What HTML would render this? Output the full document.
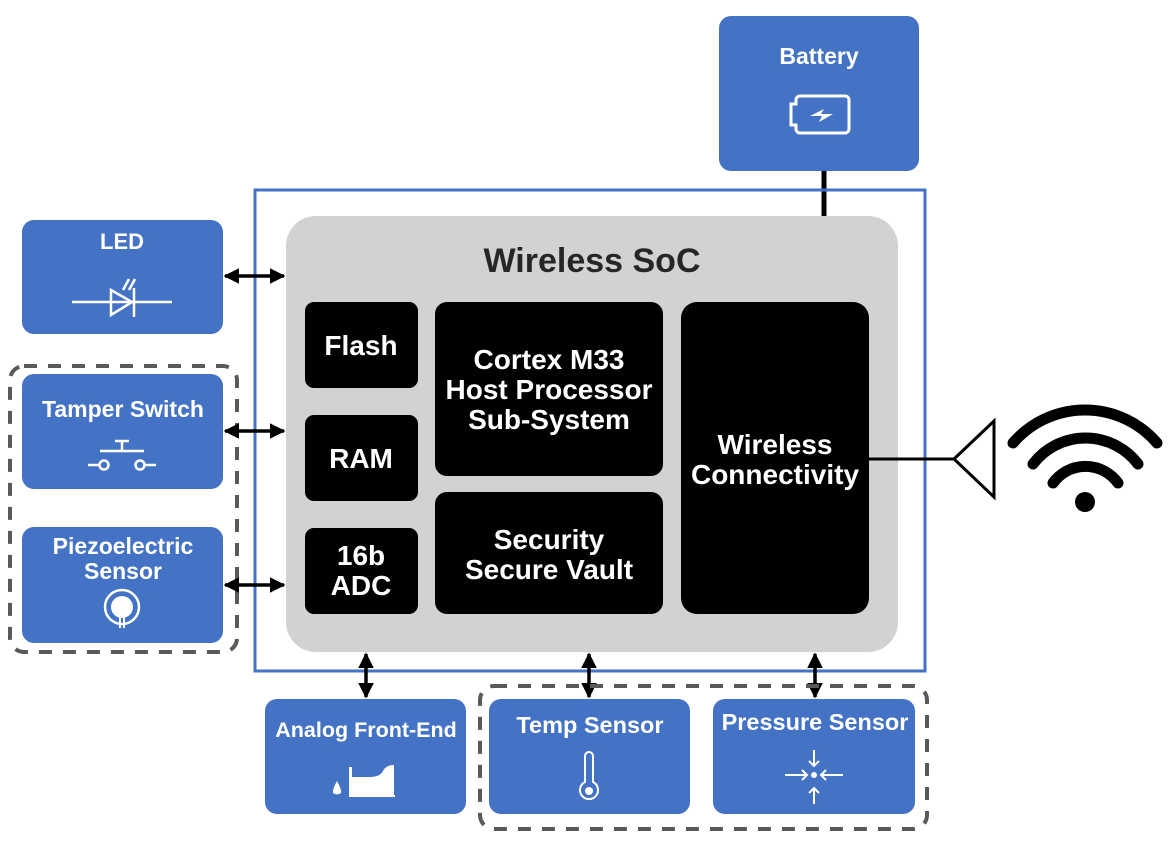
<!DOCTYPE html>
<html><head><meta charset="utf-8"><style>
html,body{margin:0;padding:0;background:#fff;}
svg{display:block;}
text{font-family:"Liberation Sans",Arial,sans-serif;font-weight:bold;text-anchor:middle;}
</style></head><body>
<svg width="1173" height="845" viewBox="0 0 1173 845" xmlns="http://www.w3.org/2000/svg">
<defs>
<marker id="ah" viewBox="0 0 10 10" refX="9" refY="5" markerWidth="4.5" markerHeight="4.5" orient="auto-start-reverse"><path d="M0,0 L10,5 L0,10 z" fill="#000"/></marker>
</defs>
<!-- Battery -->
<rect x="719" y="16" width="200" height="155" rx="12" fill="#4472c4"/>
<text x="819" y="64" font-size="23" fill="#fff">Battery</text>
<path d="M800,96 h45 a4,4 0 0 1 4,4 v29 a4,4 0 0 1 -4,4 h-45 a4,4 0 0 1 -4,-4 v-4 h-5 v-21 h5 v-4 a4,4 0 0 1 4,-4 z" fill="none" stroke="#fff" stroke-width="3"/>
<path d="M810,116 l14,-7 l-3,5 l12,0 l-14,8 l3,-6 z" fill="#fff"/>
<line x1="824" y1="171" x2="824" y2="216" stroke="#000" stroke-width="5"/>
<!-- outer frame -->
<rect x="255" y="190" width="670" height="481" fill="none" stroke="#4472c4" stroke-width="3"/>
<!-- SoC -->
<rect x="286" y="216" width="612" height="436" rx="30" fill="#d3d1d1"/>
<text x="592" y="272" font-size="34" fill="#262626">Wireless SoC</text>
<g fill="#000">
<rect x="305" y="302" width="113" height="86" rx="9"/>
<rect x="305" y="415" width="113" height="86" rx="9"/>
<rect x="305" y="528" width="113" height="86" rx="9"/>
<rect x="435" y="302" width="228" height="174" rx="12"/>
<rect x="435" y="492" width="228" height="122" rx="12"/>
<rect x="681" y="302" width="188" height="312" rx="16"/>
</g>
<g fill="#fff" font-size="28">
<text x="361" y="355">Flash</text>
<text x="361" y="468">RAM</text>
<text x="361" y="565">16b</text>
<text x="361" y="595">ADC</text>
<text x="549" y="369">Cortex M33</text>
<text x="549" y="399">Host Processor</text>
<text x="549" y="429">Sub-System</text>
<text x="549" y="549">Security</text>
<text x="549" y="579">Secure Vault</text>
<text x="775" y="454">Wireless</text>
<text x="775" y="484">Connectivity</text>
</g>
<!-- left blocks -->
<rect x="22" y="220" width="201" height="114" rx="12" fill="#4472c4"/>
<text x="122" y="249" font-size="22" fill="#fff">LED</text>
<g stroke="#fff" stroke-width="2.5" fill="none">
<line x1="72" y1="302" x2="172" y2="302"/>
<path d="M111,290 L111,315 L132,302 Z"/>
<line x1="134" y1="288" x2="134" y2="317"/>
<path d="M123,290 l6,-11 M129,290 l6,-11"/>
</g>
<rect x="10" y="366" width="227" height="286" rx="14" fill="none" stroke="#595959" stroke-width="4" stroke-dasharray="13,11"/>
<rect x="22" y="374" width="201" height="115" rx="12" fill="#4472c4"/>
<text x="123" y="417" font-size="23" fill="#fff">Tamper Switch</text>
<g stroke="#fff" stroke-width="2.5" fill="none">
<line x1="100" y1="451" x2="144" y2="451"/><line x1="122" y1="441" x2="122" y2="451"/><line x1="115" y1="441" x2="129" y2="441"/>
<line x1="88" y1="465" x2="99" y2="465"/><circle cx="104" cy="465" r="4.5"/>
<circle cx="140" cy="465" r="4.5"/><line x1="145" y1="465" x2="156" y2="465"/>
</g>
<rect x="22" y="527" width="201" height="116" rx="12" fill="#4472c4"/>
<text x="123" y="554" font-size="23" fill="#fff">Piezoelectric</text>
<text x="123" y="579" font-size="23" fill="#fff">Sensor</text>
<circle cx="122" cy="607" r="17" fill="none" stroke="#fff" stroke-width="2.5"/>
<circle cx="122" cy="607" r="11" fill="#fff"/>
<path d="M120,612 v16 M124,612 v16" stroke="#fff" stroke-width="2"/>
<!-- arrows -->
<g stroke="#000" stroke-width="3.5" marker-start="url(#ah)" marker-end="url(#ah)">
<line x1="225" y1="276" x2="284" y2="276"/>
<line x1="225" y1="431" x2="284" y2="431"/>
<line x1="225" y1="585" x2="284" y2="585"/>
<line x1="366" y1="654" x2="366" y2="697"/>
<line x1="589" y1="654" x2="589" y2="697"/>
<line x1="815" y1="654" x2="815" y2="697"/>
</g>
<!-- bottom -->
<rect x="480" y="686" width="447" height="143" rx="14" fill="none" stroke="#595959" stroke-width="4" stroke-dasharray="13,11"/>
<rect x="265" y="699" width="201" height="115" rx="12" fill="#4472c4"/>
<text x="366" y="737" font-size="21.5" fill="#fff">Analog Front-End</text>
<path d="M337,781 q-5,9 -4,12 q4,3 8,0 q1,-3 -4,-12 z" fill="#fff"/>
<path d="M349,767 v30 h46 v-2 h-1 v-30 q-8,0 -11,6 q-3,6 -14,6 h-17 v-10 z" fill="#fff"/>
<rect x="489" y="699" width="201" height="115" rx="12" fill="#4472c4"/>
<text x="590" y="733" font-size="23.5" fill="#fff">Temp Sensor</text>
<path d="M585,782 v-26 a4,4 0 0 1 8,0 v26 a9,9 0 1 1 -8,0 z" fill="none" stroke="#fff" stroke-width="2"/>
<circle cx="589" cy="791" r="4" fill="#fff"/>
<rect x="713" y="699" width="202" height="115" rx="12" fill="#4472c4"/>
<text x="815" y="730" font-size="23.5" fill="#fff">Pressure Sensor</text>
<g stroke="#fff" stroke-width="2" fill="none">
<path d="M814,750 v16 M809,761 l5,5 l5,-5"/>
<path d="M814,804 v-16 M809,793 l5,-5 l5,5"/>
<path d="M785,775 h22 M802,770 l5,5 l-5,5"/>
<path d="M843,775 h-22 M826,770 l-5,5 l5,5"/>
</g>
<circle cx="814" cy="775" r="3" fill="#fff"/>
<!-- antenna -->
<line x1="869" y1="459" x2="954" y2="459" stroke="#000" stroke-width="3"/>
<path d="M954,459 L994,421 L994,497 Z" fill="#fff" stroke="#000" stroke-width="3"/>
<g stroke="#000" stroke-width="11" fill="none" stroke-linecap="round">
<path d="M1053,483 A40,40 0 0 1 1118,483"/>
<path d="M1033,464 A66,66 0 0 1 1138,464"/>
<path d="M1013,443 A95,95 0 0 1 1157,443"/>
</g>
<circle cx="1085" cy="502" r="10" fill="#000"/>
</svg>
</body></html>
